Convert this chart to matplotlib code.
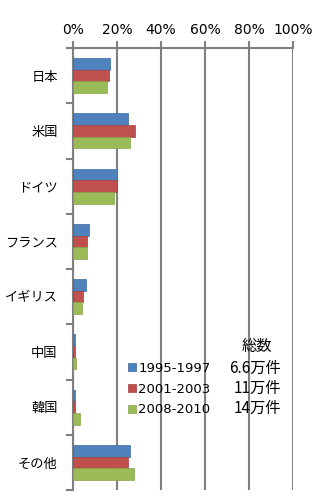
import numpy as np
import matplotlib.pyplot as plt

plt.rcParams['font.family'] = ['Noto Sans CJK JP', 'DejaVu Sans']

countries = ["日本", "米国", "ドイツ", "フランス", "イギリス", "中国", "韓国", "その他"]
periods = ["1995-1997", "2001-2003", "2008-2010"]
totals = ["6.6万件", "11万件", "14万件"]

share_1995 = [16.9, 25.0, 20.0, 7.4, 5.9, 0.8, 0.8, 26.0]
share_2001 = [16.4, 28.0, 20.0, 6.3, 4.5, 0.8, 0.8, 24.9]
share_2008 = [15.4, 26.0, 18.5, 6.3, 4.0, 1.4, 3.4, 27.5]

colors = ["#4F81BD", "#C0504D", "#9BBB59"]
edges = ["#3d6da5", "#a53f3c", "#86a54a"]

fig = plt.figure(figsize=(3.22, 5.0), dpi=100)
ax = fig.add_axes([73 / 322, 10 / 500, 220 / 322, 442 / 500])

y = np.arange(len(countries))
h = 0.21
for i, vals in enumerate([share_1995, share_2001, share_2008]):
    ax.barh(y + (i - 1) * h, vals, height=h, color=colors[i],
            edgecolor=edges[i], linewidth=0.5, label=periods[i], zorder=3)

ax.set_xlim(0, 100)
ax.set_ylim(len(countries) - 0.5, -0.5)
ax.xaxis.tick_top()
ax.set_xticks(np.arange(0, 101, 20))
ax.set_xticklabels([f"{v}%" for v in range(0, 101, 20)], fontsize=10,
                   family=['DejaVu Sans'])
ax.set_yticks(y)
ax.set_yticklabels(countries, fontsize=9.5)
ax.set_yticks(np.arange(-0.5, len(countries)), minor=True)
ax.tick_params(axis='y', which='major', length=0, pad=11)
ax.tick_params(axis='y', which='minor', length=5, width=1.5, color="#808080")
ax.tick_params(axis='x', length=5, width=1.5, color="#808080", pad=3)
ax.grid(axis='x', color="#808080", linewidth=1.5, zorder=0)

for side in ["right", "bottom"]:
    ax.spines[side].set_visible(False)
for side in ["left", "top"]:
    ax.spines[side].set_color("#808080")
    ax.spines[side].set_linewidth(1.5)

leg = ax.legend(loc="upper left", bbox_to_anchor=(48 / 220, 1 - 307 / 442),
                frameon=False, handlelength=0.6, handleheight=0.6,
                handletextpad=0.2, labelspacing=0.6, borderpad=0,
                prop={'family': ['DejaVu Sans'], 'size': 9.5})

fig.text(257 / 322, 1 - 346 / 500, "総数", fontsize=11, ha="center", va="center")
for k, t in enumerate(totals):
    fig.text(281 / 322, 1 - (368 + 20 * k) / 500, t, fontsize=11,
             ha="right", va="center")

fig.savefig("out.png", dpi=100, facecolor="white")
